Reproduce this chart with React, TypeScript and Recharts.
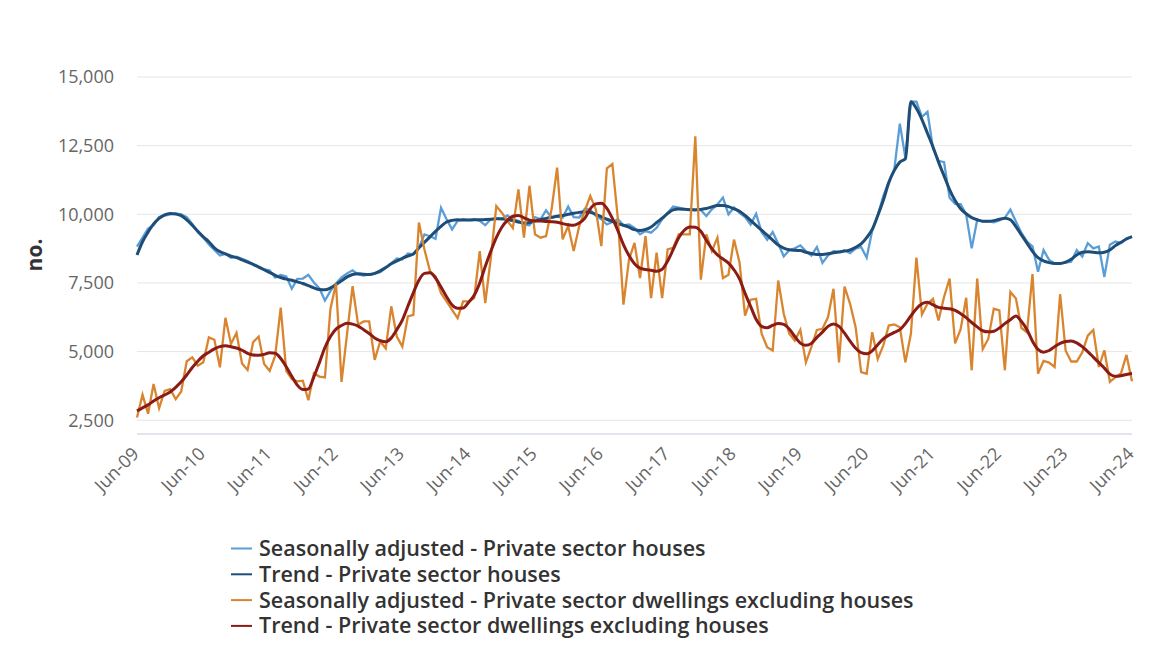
import React from 'react';
import { LineChart, Line, XAxis, YAxis, CartesianGrid } from 'recharts';

// Monthly, Jun-09 .. Jun-24 (181 months)
const saHouses = [
  8820, 9150, 9480, 9600, 9900, 9950, 10000, 10030, 10000, 9900, 9650, 9350,
  9150, 8900, 8700, 8500, 8560, 8420, 8460, 8380, 8300, 8180, 8100, 7990,
  7960, 7700, 7790, 7740, 7290, 7650, 7660, 7800, 7520, 7300, 6860, 7210,
  7480, 7700, 7850, 7960, 7810, 7770, 7810, 7840, 7890, 8050, 8210, 8390,
  8350, 8570, 8540, 8780, 9270, 9200, 9110, 10240, 9820, 9450, 9760, 9820,
  9790, 9820, 9760, 9600, 9820, 9840, 9820, 9960, 9820, 9760, 9630, 9600,
  9900, 9820, 10150, 9880, 9920, 9880, 10280, 9900, 9880, 10200, 10160, 9940,
  9820, 9630, 9720, 9820, 9600, 9630, 9510, 9270, 9390, 9330, 9510, 9820,
  10060, 10280, 10240, 10200, 10180, 10180, 10150, 9940, 10180, 10360, 10610, 10000,
  10250, 10050, 9900, 9630, 10020, 9350, 9075, 9355, 8930, 8470, 8690, 8760,
  8870, 8660, 8500, 8810, 8230, 8500, 8660, 8630, 8690, 8590, 8750, 8810,
  8420, 9400, 9960, 10650, 11200, 11640, 13300, 12070, 14100, 14100, 13550, 13730,
  12400, 11950, 11900, 10600, 10380, 10370, 9990, 8760, 9800, 9740, 9740, 9710,
  9780, 9870, 10170, 9740, 9320, 9010, 8830, 7910, 8700, 8340, 8210, 8210,
  8240, 8270, 8700, 8460, 8950, 8760, 8830, 7720, 8890, 9010, 8950, 9130,
  9190,
];

const trendHouses = [
  8520, 9000, 9350, 9650, 9850, 9980, 10030, 10010, 9950, 9800, 9600, 9380,
  9180, 9000, 8780, 8640, 8560, 8480, 8420, 8340, 8260, 8180, 8080, 7980,
  7880, 7780, 7700, 7640, 7600, 7540, 7480, 7400, 7320, 7260, 7250, 7320,
  7440, 7580, 7720, 7810, 7840, 7820, 7810, 7850, 7940, 8060, 8200, 8300,
  8400, 8480, 8560, 8780, 8980, 9180, 9380, 9560, 9720, 9780, 9800, 9790,
  9790, 9800, 9800, 9810, 9820, 9840, 9840, 9810, 9770, 9720, 9680, 9700,
  9760, 9810, 9850, 9890, 9930, 9960, 10000, 10040, 10070, 10090, 10070, 10000,
  9910, 9820, 9740, 9660, 9600, 9530, 9440, 9410, 9450, 9540, 9700, 9860,
  10030, 10160, 10190, 10180, 10170, 10160, 10180, 10210, 10270, 10320, 10320, 10280,
  10200, 10110, 9960, 9780, 9600, 9420, 9240, 9060, 8880, 8770, 8710, 8690,
  8680, 8620, 8570, 8540, 8540, 8560, 8600, 8630, 8660, 8700, 8800, 8920,
  9150, 9450, 9950, 10500, 11150, 11600, 11900, 12020, 14100, 13850, 13450, 12950,
  12450, 11900, 11400, 10900, 10500, 10200, 10020, 9880, 9800, 9750, 9750, 9770,
  9820, 9860, 9800, 9550, 9250, 8950, 8650, 8420, 8300, 8240, 8210, 8210,
  8260, 8360, 8520, 8620, 8640, 8620, 8600, 8620, 8700, 8860, 8980, 9100,
  9190,
];

const saDwellings = [
  2600, 3430, 2740, 3820, 2940, 3570, 3630, 3270, 3550, 4650, 4790, 4490,
  4610, 5520, 5430, 4430, 6230, 5280, 5680, 4570, 4330, 5340, 5550, 4550,
  4300, 4850, 6600, 4300, 4000, 3920, 3940, 3230, 4210, 4090, 4060, 6560,
  7480, 3900, 5650, 7380, 5980, 6100, 6100, 4700, 5370, 5120, 6650, 5550,
  5180, 6280, 6340, 9700, 8720, 7930, 7740, 7130, 6830, 6520, 6220, 6830,
  6830, 6950, 8660, 6770, 8400, 10300, 10060, 9760, 9500, 10910, 9150, 11040,
  9270, 9150, 9210, 10180, 11700, 9090, 9570, 8660, 9570, 10120, 10670, 10180,
  8840, 11670, 11830, 9820, 6710, 8350, 8960, 7680, 9210, 6950, 8600, 6950,
  8720, 8780, 9270, 9270, 9270, 12840, 7620, 9270, 8660, 9150, 7680, 7800,
  9080, 8250, 6310, 6890, 6920, 5650, 5160, 5040, 7590, 6380, 5650, 5400,
  5790, 4610, 5160, 5790, 5830, 6250, 7290, 4610, 7370, 6740, 5890, 4250,
  4190, 5710, 4730, 5220, 5950, 5990, 5890, 4610, 5650, 8420, 6350, 6740,
  6920, 6130, 6990, 7660, 5300, 5820, 6960, 4320, 7660, 5090, 5460, 6560,
  6500, 4320, 7170, 6930, 5860, 5700, 7820, 4200, 4660, 4600, 4440, 7090,
  5030, 4640, 4640, 4970, 5580, 5790, 4440, 5050, 3900, 4070, 4200, 4880,
  3920,
];

const trendDwellings = [
  2840, 2950, 3060, 3200, 3320, 3420, 3530, 3700, 3900, 4150, 4420, 4650,
  4850, 4980, 5100, 5180, 5210, 5180, 5130, 5050, 4940, 4880, 4870, 4900,
  4960, 4940, 4750, 4450, 4100, 3780, 3620, 3640, 4080, 4600, 5150, 5550,
  5820, 5950, 6030, 6000, 5930, 5800, 5660, 5500, 5400, 5360, 5500, 5800,
  6150, 6650, 7150, 7600, 7850, 7870, 7680, 7350, 7000, 6700, 6580, 6590,
  6800, 7050, 7500, 8100, 8650, 9150, 9530, 9780, 9930, 9960, 9870, 9790,
  9760, 9760, 9740, 9730, 9710, 9660, 9620, 9600, 9680, 9850, 10200, 10380,
  10400, 10220, 9850, 9400, 8900, 8500, 8200, 8040, 7990, 7960, 7930, 8000,
  8300, 8720, 9150, 9420, 9540, 9530, 9380, 9050, 8750, 8520, 8370, 8220,
  7980, 7650, 7120, 6650, 6180, 5920, 5870, 5960, 6020, 5990, 5820, 5550,
  5310, 5230, 5300, 5520, 5710, 5920, 6010, 5920, 5670, 5380, 5120, 4960,
  4920, 5030, 5250, 5460, 5600, 5700, 5800, 6020, 6300, 6560, 6740, 6800,
  6700, 6610, 6580, 6560, 6500, 6380, 6240, 6060, 5900, 5760, 5720, 5740,
  5860, 6020, 6160, 6300, 6100, 5800, 5380, 5080, 4980, 5040, 5180, 5300,
  5370, 5390, 5320, 5180, 5000, 4800, 4600, 4400, 4180, 4100, 4120, 4170,
  4200,
];

const xTickLabels = [
  'Jun-09', 'Jun-10', 'Jun-11', 'Jun-12', 'Jun-13', 'Jun-14', 'Jun-15', 'Jun-16',
  'Jun-17', 'Jun-18', 'Jun-19', 'Jun-20', 'Jun-21', 'Jun-22', 'Jun-23', 'Jun-24',
];
const yTicks = [2500, 5000, 7500, 10000, 12500, 15000];

const seriesInfo = [
  { key: 'saH', name: 'Seasonally adjusted - Private sector houses', color: '#5b9dd6', width: 2.3, type: 'linear' },
  { key: 'trH', name: 'Trend - Private sector houses', color: '#1e4d78', width: 3, type: 'monotone' },
  { key: 'saD', name: 'Seasonally adjusted - Private sector dwellings excluding houses', color: '#d9852f', width: 2.3, type: 'linear' },
  { key: 'trD', name: 'Trend - Private sector dwellings excluding houses', color: '#8b1b15', width: 3, type: 'monotone' },
];

const data = saHouses.map((v, i) => ({
  i,
  saH: v,
  trH: trendHouses[i],
  saD: saDwellings[i],
  trD: trendDwellings[i],
}));

const xTicks = xTickLabels.map((_, k) => k * 12);

const FONT = '"Open Sans", "Noto Sans", sans-serif';

const XTick = (props: any) => {
  const { x, y, payload } = props;
  const label = xTickLabels[Math.round(payload.value / 12)];
  const ax = x + 3;
  const ay = y + 21;
  return (
    <text
      x={ax}
      y={ay}
      textAnchor="end"
      transform={`rotate(-45, ${ax}, ${ay})`}
      fill="#666666"
      fontSize={18}
      fontFamily={FONT}
    >
      {label}
    </text>
  );
};

const YTick = (props: any) => {
  const { x, y, payload } = props;
  return (
    <text x={x} y={y} dy="0.36em" textAnchor="end" fill="#666666" fontSize={18} fontFamily={FONT}>
      {payload.value.toLocaleString('en-US')}
    </text>
  );
};

export default function App() {
  return (
    <div style={{ position: 'relative', width: 1160, height: 655, background: '#ffffff', fontFamily: FONT }}>
      <style>{'body{margin:0;}'}</style>
      <LineChart
        width={1160}
        height={520}
        data={data}
        margin={{ top: 77, right: 28, bottom: 6, left: 0 }}
      >
        <CartesianGrid vertical={false} stroke="#e6e6e6" strokeWidth={1} />
        <XAxis
          dataKey="i"
          type="number"
          domain={[0, 180]}
          ticks={xTicks}
          interval={0}
          tick={<XTick />}
          tickLine={false}
          tickSize={0}
          tickMargin={0}
          axisLine={{ stroke: '#ccd6eb', strokeWidth: 1 }}
          height={80}
        />
        <YAxis
          type="number"
          domain={[2000, 15000]}
          ticks={yTicks}
          interval={0}
          width={137}
          tick={<YTick />}
          tickLine={false}
          tickSize={0}
          tickMargin={23}
          axisLine={false}
        />
        {seriesInfo.map((s) => (
          <Line
            key={s.key}
            dataKey={s.key}
            name={s.name}
            type={s.type as any}
            stroke={s.color}
            strokeWidth={s.width}
            dot={false}
            activeDot={false}
            isAnimationActive={false}
          />
        ))}
      </LineChart>
      <svg
        width={1160}
        height={655}
        style={{ position: 'absolute', left: 0, top: 0, pointerEvents: 'none' }}
      >
        <text
          x={0}
          y={0}
          transform="translate(42, 255) rotate(-90)"
          textAnchor="middle"
          fontSize={21}
          fontWeight={700}
          fill="#333333"
          fontFamily={FONT}
        >
          no.
        </text>
        {seriesInfo.map((s, k) => (
          <g key={s.key}>
            <line x1={231} x2={252} y1={548.5 + k * 25.8} y2={548.5 + k * 25.8} stroke={s.color} strokeWidth={2} />
            <text x={259} y={556 + k * 25.8} fontSize={21.5} fontWeight={600} fill="#333333" fontFamily={FONT}>
              {s.name}
            </text>
          </g>
        ))}
      </svg>
    </div>
  );
}
